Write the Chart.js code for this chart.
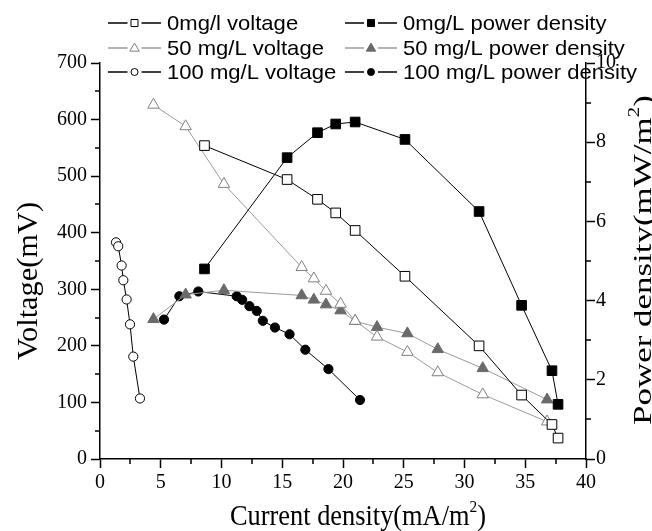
<!DOCTYPE html>
<html>
<head>
<meta charset="utf-8">
<script src="https://cdn.jsdelivr.net/npm/chart.js@4.4.1/dist/chart.umd.min.js"></script>
<style>
    html, body { margin: 0; padding: 0; background: #fff; }
</style>
</head>
<body>
<canvas id="chart" width="652" height="531"></canvas>
<script>
// values
const current0 = [8.6, 15.4, 17.9, 19.4, 21.0, 25.1, 31.2, 34.7, 37.2, 37.7];
const voltage0 = [554, 494, 459, 435, 404, 323, 200, 113, 61, 37];
const power0 = [4.80, 7.61, 8.24, 8.46, 8.51, 8.07, 6.25, 3.88, 2.23, 1.38];

const current50 = [4.4, 7.05, 10.2, 16.6, 17.6, 18.6, 19.8, 21.0, 22.8, 25.3, 27.8, 31.5, 36.8];
const voltage50 = [626, 588, 486, 339, 319, 297, 274, 244, 216, 189, 153, 114, 66];
const power50 = [3.53, 4.15, 4.26, 4.13, 4.02, 3.90, 3.75, 3.48, 3.33, 3.17, 2.77, 2.29, 1.50];

const current100v = [1.32, 1.5, 1.78, 1.92, 2.19, 2.47, 2.74, 3.29];
const voltage100 = [383, 376, 342, 316, 282, 238, 181, 107];
const current100p = [5.27, 6.53, 8.09, 11.25, 11.7, 12.3, 12.9, 13.4, 14.4, 15.6, 16.9, 18.8, 21.4];
const power100 = [3.52, 4.11, 4.23, 4.11, 4.02, 3.86, 3.74, 3.49, 3.32, 3.15, 2.76, 2.27, 1.49];

const seriesLabels = [
    '0mg/l voltage', '0mg/L power density',
    '50 mg/L voltage', '50 mg/L power density',
    '100 mg/L voltage', '100 mg/L power density',
];

const serif = "'Liberation Serif', serif";
const sans = "'Liberation Sans', sans-serif";

Chart.defaults.font.family = serif;
Chart.defaults.font.size = 20;
Chart.defaults.color = '#000';

const zip = (xs, ys) => xs.map((x, i) => ({ x, y: ys[i] }));

function series(label, points, axis, style, fill, stroke, line, radius) {
    return {
        label,
        data: points,
        yAxisID: axis,
        showLine: true,
        borderColor: line,
        borderWidth: 1,
        pointStyle: style,
        pointRadius: radius,
        pointHoverRadius: radius,
        pointBackgroundColor: fill,
        pointBorderColor: stroke,
        pointBorderWidth: 1,
    };
}

const minorTicks = {
    id: 'minorTicks',
    afterDraw(chart) {
        const { ctx, chartArea: a, scales } = chart;
        ctx.save();
        ctx.strokeStyle = '#000';
        ctx.lineWidth = 1.5;
        ctx.beginPath();
        for (let v = 2.5; v < 40; v += 5) {
            const px = Math.round(scales.x.getPixelForValue(v));
            ctx.moveTo(px, a.bottom);
            ctx.lineTo(px, a.bottom + 5);
        }
        for (let v = 50; v < 700; v += 100) {
            const py = Math.round(scales.y.getPixelForValue(v));
            ctx.moveTo(a.left, py);
            ctx.lineTo(a.left - 5, py);
        }
        for (let v = 1; v < 10; v += 2) {
            const py = Math.round(scales.y2.getPixelForValue(v));
            ctx.moveTo(a.right, py);
            ctx.lineTo(a.right + 5, py);
        }
        ctx.stroke();
        ctx.restore();
    },
};

// title with a superscript part, stretched to the length seen in the figure
function drawTitle(ctx, main, sup, tail, x, y, angle, size, length) {
    ctx.save();
    ctx.translate(x, y);
    ctx.rotate(angle);
    ctx.fillStyle = '#000';
    ctx.textBaseline = 'alphabetic';
    ctx.font = `${size}px ${serif}`;
    const w1 = ctx.measureText(main).width;
    const w3 = ctx.measureText(tail).width;
    ctx.font = `${Math.round(size * 0.6)}px ${serif}`;
    const w2 = ctx.measureText(sup).width;
    const total = w1 + w2 + w3;
    ctx.scale(length / total, 1);
    let cx = -total / 2;
    ctx.font = `${size}px ${serif}`;
    ctx.fillText(main, cx, 0);
    cx += w1;
    ctx.font = `${Math.round(size * 0.6)}px ${serif}`;
    ctx.fillText(sup, cx, -size * 0.45);
    cx += w2;
    ctx.font = `${size}px ${serif}`;
    ctx.fillText(tail, cx, 0);
    ctx.restore();
}

const axisTitles = {
    id: 'axisTitles',
    afterDraw(chart) {
        const { ctx } = chart;
        drawTitle(ctx, 'Voltage(mV)', '', '', 37, 281, -Math.PI / 2, 29, 158);
        drawTitle(ctx, 'Power density(mW/m', '2', ')', 651, 260, -Math.PI / 2, 26, 330);
        drawTitle(ctx, 'Current density(mA/m', '2', ')', 358, 525, 0, 29, 256);
    },
};

function drawMarker(ctx, style, x, y, r, fill, stroke) {
    ctx.beginPath();
    if (style === 'rect') {
        ctx.rect(x - r, y - r, 2 * r, 2 * r);
    } else if (style === 'triangle') {
        ctx.moveTo(x, y - r * 1.1);
        ctx.lineTo(x + r * 1.05, y + r * 0.7);
        ctx.lineTo(x - r * 1.05, y + r * 0.7);
        ctx.closePath();
    } else {
        ctx.arc(x, y, r, 0, Math.PI * 2);
    }
    ctx.fillStyle = fill;
    ctx.fill();
    ctx.strokeStyle = stroke;
    ctx.lineWidth = 1;
    ctx.stroke();
}

const legendRows = [23, 48, 72];
const legendCols = [{ x0: 108, x1: 161, tx: 167 }, { x0: 345, x1: 397, tx: 403 }];

const customLegend = {
    id: 'customLegend',
    afterDraw(chart) {
        const { ctx } = chart;
        ctx.save();
        chart.data.datasets.forEach((ds, i) => {
            const col = legendCols[i % 2];
            const y = legendRows[Math.floor(i / 2)];
            ctx.strokeStyle = ds.borderColor;
            ctx.lineWidth = 1.5;
            ctx.beginPath();
            ctx.moveTo(col.x0, y);
            ctx.lineTo(col.x1, y);
            ctx.stroke();
            const mx = (col.x0 + col.x1) / 2;
            ctx.fillStyle = '#fff';
            ctx.fillRect(mx - 7, y - 5, 14, 10);
            drawMarker(ctx, ds.pointStyle, mx, y, ds.pointStyle === 'triangle' ? 4.5 : 3.5,
                ds.pointBackgroundColor, ds.pointBorderColor);
            ctx.save();
            ctx.translate(col.tx, y);
            ctx.scale(1.05, 1);
            ctx.fillStyle = '#000';
            ctx.font = `21px ${sans}`;
            ctx.textBaseline = 'middle';
            ctx.fillText(ds.label, 0, 1);
            ctx.restore();
        });
        ctx.restore();
    },
};

const tickFont = { family: serif, size: 20 };

function axis(extra) {
    return Object.assign({
        type: 'linear',
        grid: {
            drawOnChartArea: false,
            drawTicks: true,
            tickLength: 9,
            tickColor: '#000',
            tickWidth: 1.5,
        },
        border: { display: true, color: '#000', width: 1.5 },
        title: { display: false },
    }, extra);
}

new Chart(document.getElementById('chart'), {
    type: 'scatter',
    data: {
        datasets: [
            series(seriesLabels[0], zip(current0, voltage0), 'y', 'rect', '#fff', '#000', '#000', 6.8),
            series(seriesLabels[1], zip(current0, power0), 'y2', 'rect', '#000', '#000', '#000', 6.8),
            series(seriesLabels[2], zip(current50, voltage50), 'y', 'triangle', '#fff', '#808080', '#9a9a9a', 6.6),
            series(seriesLabels[3], zip(current50, power50), 'y2', 'triangle', '#6a6a6a', '#6a6a6a', '#9a9a9a', 6.6),
            series(seriesLabels[4], zip(current100v, voltage100), 'y', 'circle', '#fff', '#000', '#000', 4.6),
            series(seriesLabels[5], zip(current100p, power100), 'y2', 'circle', '#000', '#000', '#000', 4.6),
        ],
    },
    options: {
        responsive: false,
        animation: false,
        devicePixelRatio: 1,
        layout: { padding: { top: 63, left: 0, right: 0, bottom: 0 } },
        plugins: {
            legend: { display: false },
            tooltip: { enabled: false },
        },
        scales: {
            x: axis({
                position: 'bottom',
                min: 0,
                max: 40,
                ticks: { stepSize: 5, color: '#000', font: tickFont, padding: 3, maxRotation: 0 },
                afterFit(scale) { scale.height = 72; },
            }),
            y: axis({
                position: 'left',
                min: 0,
                max: 700,
                ticks: { stepSize: 100, color: '#000', font: tickFont, padding: 4 },
                afterFit(scale) { scale.width = 100; },
            }),
            y2: axis({
                position: 'right',
                min: 0,
                max: 10,
                ticks: { stepSize: 2, color: '#000', font: tickFont, padding: 1 },
                afterFit(scale) { scale.width = 66; },
            }),
        },
    },
    plugins: [minorTicks, axisTitles, customLegend],
});
</script>
</body>
</html>
